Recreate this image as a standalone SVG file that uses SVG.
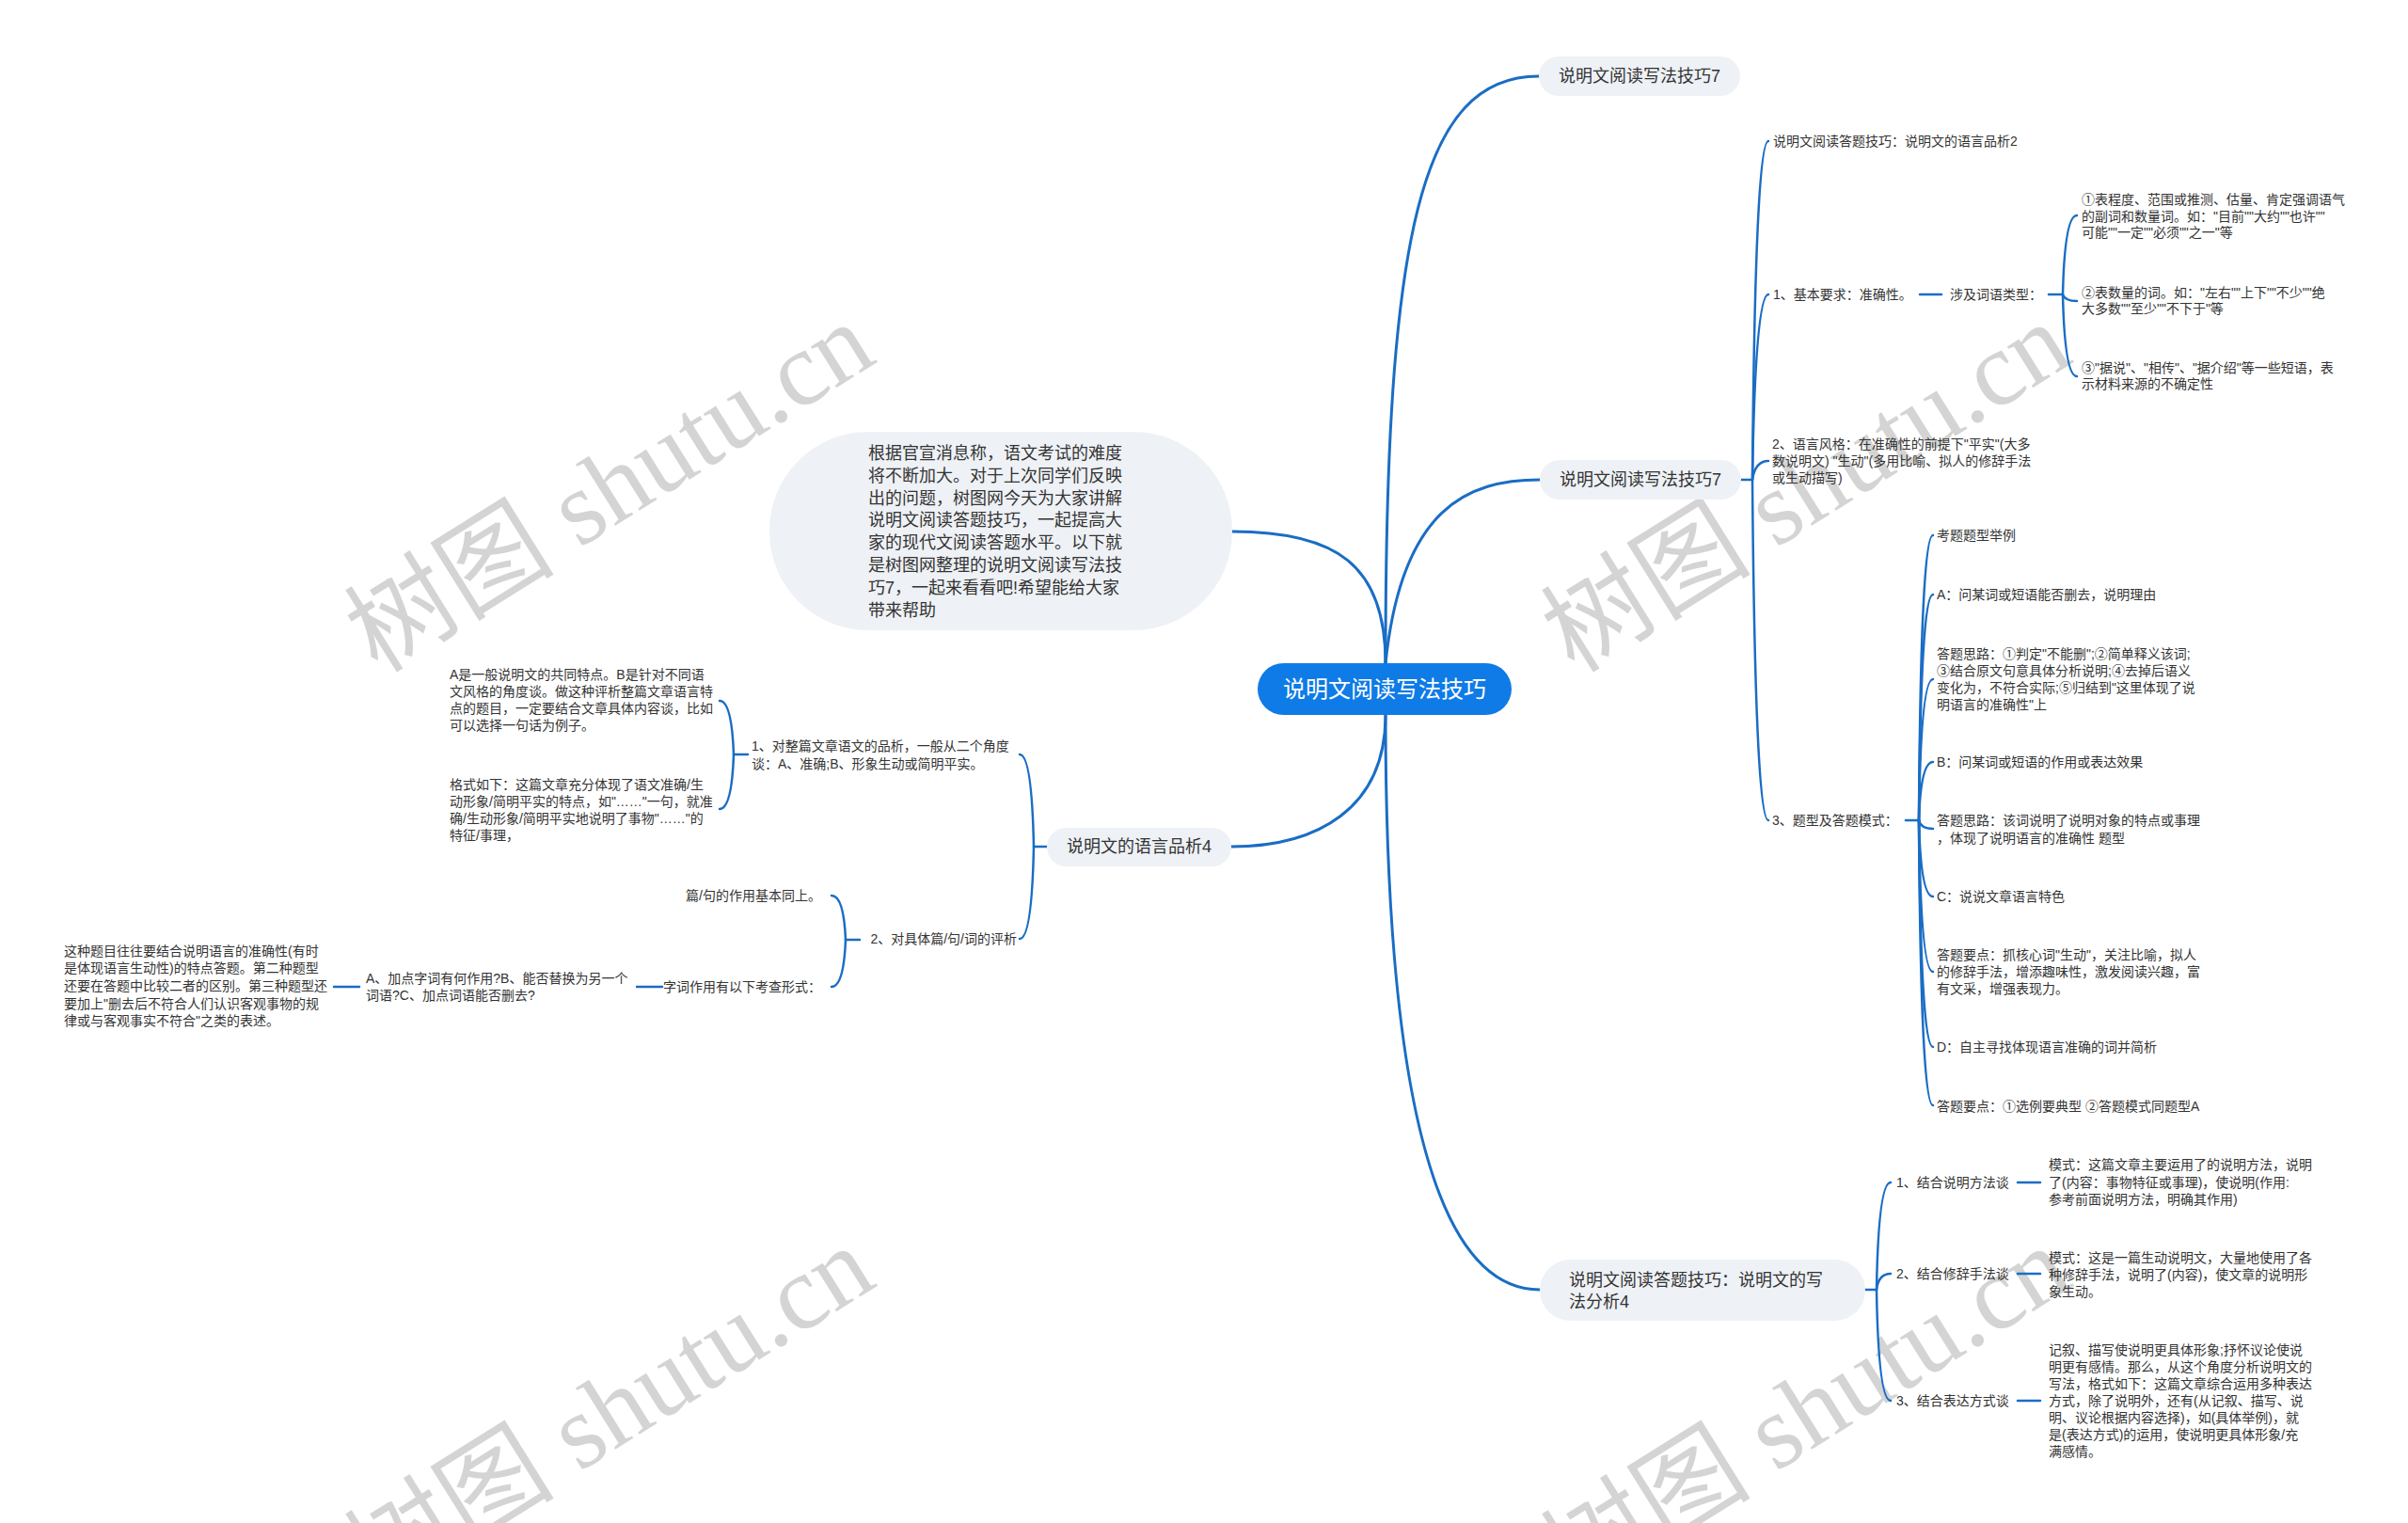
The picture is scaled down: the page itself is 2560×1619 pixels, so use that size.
<svg xmlns="http://www.w3.org/2000/svg" width="2560" height="1619" viewBox="0 0 2560 1619">
<style>
.bg{fill:#ffffff}
.wm{font-family:"Liberation Serif","Noto Sans CJK SC",serif;font-size:112px;fill:#d4d4d4;text-anchor:middle;dominant-baseline:central}
.c{fill:none;stroke:#1a6dc4;stroke-width:2.5;stroke-linecap:round}
.cm{fill:none;stroke:#1a6dc4;stroke-width:3;stroke-linecap:round}
.t{font-family:"Liberation Sans","Noto Sans CJK SC",sans-serif;font-size:14px;fill:#333333;dominant-baseline:central}
.e{text-anchor:end}
.n1 rect{fill:#eef1f5}
.n1 text{font-size:18px;text-anchor:middle}
.root rect{fill:#0f7be6}
.root text{font-family:"Liberation Sans","Noto Sans CJK SC",sans-serif;font-size:24px;fill:#ffffff;text-anchor:middle;dominant-baseline:central}
.intro text{font-size:18px}
</style>
<rect class="bg" x="0" y="0" width="2560" height="1619"/>
<g id="watermark">
<text class="wm" transform="translate(648,518) rotate(-32)">树图 shutu.cn</text>
<text class="wm" transform="translate(1920,518) rotate(-32)">树图 shutu.cn</text>
<text class="wm" transform="translate(648,1500) rotate(-32)">树图 shutu.cn</text>
<text class="wm" transform="translate(1920,1500) rotate(-32)">树图 shutu.cn</text>
</g>
<g id="connectors">
<path class="cm" d="M1473,705 C1473,250 1510,81 1636,81"/>
<path class="cm" d="M1473,705 C1490,540 1560,510 1637,510"/>
<path class="cm" d="M1473,705 C1473,600 1420,565 1310,565"/>
<path class="cm" d="M1473,760 C1473,860 1400,900 1309,900"/>
<path class="cm" d="M1473,760 C1473,1300 1570,1371 1637,1371"/>
<path class="c" d="M1851,510 L1863,510"/>
<path class="c" d="M1863,510 Q1866,150 1880,150"/>
<path class="c" d="M1863,510 Q1866,313 1880,313"/>
<path class="c" d="M1863,510 Q1866,490 1880,490"/>
<path class="c" d="M1863,510 Q1866,872 1880,872"/>
<path class="c" d="M2041,313 L2064,313"/>
<path class="c" d="M2178,313 L2193,313"/>
<path class="c" d="M2193,313 Q2195,229 2208,229"/>
<path class="c" d="M2193,313 Q2195,320 2208,320"/>
<path class="c" d="M2193,313 Q2195,400 2208,400"/>
<path class="c" d="M2026,872 L2040,872"/>
<path class="c" d="M2040,872 Q2042,569 2055,569"/>
<path class="c" d="M2040,872 Q2042,632 2055,632"/>
<path class="c" d="M2040,872 Q2042,722 2055,722"/>
<path class="c" d="M2040,872 Q2042,810 2055,810"/>
<path class="c" d="M2040,872 Q2042,881 2055,881"/>
<path class="c" d="M2040,872 Q2042,953 2055,953"/>
<path class="c" d="M2040,872 Q2042,1033 2055,1033"/>
<path class="c" d="M2040,872 Q2042,1113 2055,1113"/>
<path class="c" d="M2040,872 Q2042,1175 2055,1175"/>
<path class="c" d="M1983,1371 L1995,1371"/>
<path class="c" d="M1995,1371 Q1997,1257 2010,1257"/>
<path class="c" d="M1995,1371 Q1997,1354 2010,1354"/>
<path class="c" d="M1995,1371 Q1997,1489 2010,1489"/>
<path class="c" d="M2145,1257 L2169,1257"/>
<path class="c" d="M2145,1354 L2169,1354"/>
<path class="c" d="M2145,1489 L2169,1489"/>
<path class="c" d="M1113,900 L1099,900"/>
<path class="c" d="M1099,900 Q1097,802 1084,802"/>
<path class="c" d="M1099,900 Q1097,998 1084,998"/>
<path class="c" d="M795,802 L780,802"/>
<path class="c" d="M780,802 Q778,745 765,745"/>
<path class="c" d="M780,802 Q778,860 765,860"/>
<path class="c" d="M914,999 L899,999"/>
<path class="c" d="M899,999 Q897,952 884,952"/>
<path class="c" d="M899,999 Q897,1049 884,1049"/>
<path class="c" d="M677,1049 L704,1049"/>
<path class="c" d="M355,1049 L382,1049"/>
</g>
<g id="root" class="root">
<rect x="1337" y="705" width="270" height="55" rx="27.5"/>
<text x="1472" y="732">说明文阅读写法技巧</text>
</g>
<g id="intro" class="n1 intro">
<rect x="818" y="459" width="492" height="211" rx="105"/>
<text class="t" x="923" y="482" style="text-anchor:start">根据官宣消息称，语文考试的难度</text>
<text class="t" x="923" y="506" style="text-anchor:start">将不断加大。对于上次同学们反映</text>
<text class="t" x="923" y="529.5" style="text-anchor:start">出的问题，树图网今天为大家讲解</text>
<text class="t" x="923" y="553" style="text-anchor:start">说明文阅读答题技巧，一起提高大</text>
<text class="t" x="923" y="577" style="text-anchor:start">家的现代文阅读答题水平。以下就</text>
<text class="t" x="923" y="601" style="text-anchor:start">是树图网整理的说明文阅读写法技</text>
<text class="t" x="923" y="625" style="text-anchor:start">巧7，一起来看看吧!希望能给大家</text>
<text class="t" x="923" y="649" style="text-anchor:start">带来帮助</text>
</g>
<g id="n-tips7-top" class="n1">
<rect x="1636" y="60" width="214" height="42" rx="21"/>
<text class="t" x="1743" y="81">说明文阅读写法技巧7</text>
</g>
<g id="n-tips7" class="n1">
<rect x="1637" y="489" width="214" height="42" rx="21"/>
<text class="t" x="1744" y="510">说明文阅读写法技巧7</text>
</g>
<g id="n-lang4" class="n1">
<rect x="1113" y="880" width="196" height="41" rx="20.5"/>
<text class="t" x="1211" y="900">说明文的语言品析4</text>
</g>
<g id="n-write4" class="n1">
<rect x="1637" y="1339" width="346" height="65" rx="32.5"/>
<text class="t" x="1668" y="1361" style="text-anchor:start">说明文阅读答题技巧：说明文的写</text>
<text class="t" x="1668" y="1384" style="text-anchor:start">法分析4</text>
</g>
<g id="r-lang2"><text class="t" x="1885" y="150">说明文阅读答题技巧：说明文的语言品析2</text></g>
<g id="r-basic"><text class="t" x="1885" y="313">1、基本要求：准确性。</text></g>
<g id="r-wordtype"><text class="t" x="2073" y="313">涉及词语类型：</text></g>
<g id="r-w1">
<text class="t" x="2213" y="212">①表程度、范围或推测、估量、肯定强调语气</text>
<text class="t" x="2213" y="229.5">的副词和数量词。如："目前""大约""也许""</text>
<text class="t" x="2213" y="247">可能""一定""必须""之一"等</text>
</g>
<g id="r-w2">
<text class="t" x="2213" y="311">②表数量的词。如："左右""上下""不少""绝</text>
<text class="t" x="2213" y="328">大多数""至少""不下于"等</text>
</g>
<g id="r-w3">
<text class="t" x="2213" y="391">③"据说"、"相传"、"据介绍"等一些短语，表</text>
<text class="t" x="2213" y="408">示材料来源的不确定性</text>
</g>
<g id="r-style">
<text class="t" x="1884" y="472">2、语言风格：在准确性的前提下"平实"(大多</text>
<text class="t" x="1884" y="490">数说明文) "生动"(多用比喻、拟人的修辞手法</text>
<text class="t" x="1884" y="508">或生动描写)</text>
</g>
<g id="r-types"><text class="t" x="1884" y="872">3、题型及答题模式：</text></g>
<g id="r-t0"><text class="t" x="2059" y="569">考题题型举例</text></g>
<g id="r-t1"><text class="t" x="2059" y="632">A：问某词或短语能否删去，说明理由</text></g>
<g id="r-t2">
<text class="t" x="2059" y="695">答题思路：①判定"不能删";②简单释义该词;</text>
<text class="t" x="2059" y="713">③结合原文句意具体分析说明;④去掉后语义</text>
<text class="t" x="2059" y="731">变化为，不符合实际;⑤归结到"这里体现了说</text>
<text class="t" x="2059" y="749">明语言的准确性"上</text>
</g>
<g id="r-t3"><text class="t" x="2059" y="810">B：问某词或短语的作用或表达效果</text></g>
<g id="r-t4">
<text class="t" x="2059" y="872">答题思路：该词说明了说明对象的特点或事理</text>
<text class="t" x="2059" y="891">，体现了说明语言的准确性 题型</text>
</g>
<g id="r-t5"><text class="t" x="2059" y="953">C：说说文章语言特色</text></g>
<g id="r-t6">
<text class="t" x="2059" y="1015">答题要点：抓核心词"生动"，关注比喻，拟人</text>
<text class="t" x="2059" y="1033">的修辞手法，增添趣味性，激发阅读兴趣，富</text>
<text class="t" x="2059" y="1051">有文采，增强表现力。</text>
</g>
<g id="r-t7"><text class="t" x="2059" y="1113">D：自主寻找体现语言准确的词并简析</text></g>
<g id="r-t8"><text class="t" x="2059" y="1176">答题要点：①选例要典型 ②答题模式同题型A</text></g>
<g id="b-m1"><text class="t" x="2016" y="1257">1、结合说明方法谈</text></g>
<g id="b-m1d">
<text class="t" x="2178" y="1238">模式：这篇文章主要运用了的说明方法，说明</text>
<text class="t" x="2178" y="1257">了(内容：事物特征或事理)，使说明(作用:</text>
<text class="t" x="2178" y="1275">参考前面说明方法，明确其作用)</text>
</g>
<g id="b-m2"><text class="t" x="2016" y="1354">2、结合修辞手法谈</text></g>
<g id="b-m2d">
<text class="t" x="2178" y="1337">模式：这是一篇生动说明文，大量地使用了各</text>
<text class="t" x="2178" y="1355">种修辞手法，说明了(内容)，使文章的说明形</text>
<text class="t" x="2178" y="1373">象生动。</text>
</g>
<g id="b-m3"><text class="t" x="2016" y="1489">3、结合表达方式谈</text></g>
<g id="b-m3d">
<text class="t" x="2178" y="1435">记叙、描写使说明更具体形象;抒怀议论使说</text>
<text class="t" x="2178" y="1453">明更有感情。那么，从这个角度分析说明文的</text>
<text class="t" x="2178" y="1471">写法，格式如下：这篇文章综合运用多种表达</text>
<text class="t" x="2178" y="1489">方式，除了说明外，还有(从记叙、描写、说</text>
<text class="t" x="2178" y="1507">明、议论根据内容选择)，如(具体举例)，就</text>
<text class="t" x="2178" y="1525">是(表达方式)的运用，使说明更具体形象/充</text>
<text class="t" x="2178" y="1543">满感情。</text>
</g>
<g id="l-whole">
<text class="t" x="799" y="793">1、对整篇文章语文的品析，一般从二个角度</text>
<text class="t" x="799" y="812">谈：A、准确;B、形象生动或简明平实。</text>
</g>
<g id="l-whole-a">
<text class="t" x="478" y="717">A是一般说明文的共同特点。B是针对不同语</text>
<text class="t" x="478" y="735">文风格的角度谈。做这种评析整篇文章语言特</text>
<text class="t" x="478" y="753">点的题目，一定要结合文章具体内容谈，比如</text>
<text class="t" x="478" y="771">可以选择一句话为例子。</text>
</g>
<g id="l-whole-b">
<text class="t" x="478" y="834">格式如下：这篇文章充分体现了语文准确/生</text>
<text class="t" x="478" y="852">动形象/简明平实的特点，如"……"一句，就准</text>
<text class="t" x="478" y="870">确/生动形象/简明平实地说明了事物"……"的</text>
<text class="t" x="478" y="888">特征/事理，</text>
</g>
<g id="l-specific"><text class="t e" x="1081" y="998">2、对具体篇/句/词的评析</text></g>
<g id="l-sent"><text class="t e" x="873" y="952">篇/句的作用基本同上。</text></g>
<g id="l-word"><text class="t e" x="873" y="1049">字词作用有以下考查形式：</text></g>
<g id="l-word-a">
<text class="t" x="389" y="1040">A、加点字词有何作用?B、能否替换为另一个</text>
<text class="t" x="389" y="1058">词语?C、加点词语能否删去?</text>
</g>
<g id="l-word-b">
<text class="t" x="68" y="1011">这种题目往往要结合说明语言的准确性(有时</text>
<text class="t" x="68" y="1029">是体现语言生动性)的特点答题。第二种题型</text>
<text class="t" x="68" y="1048">还要在答题中比较二者的区别。第三种题型还</text>
<text class="t" x="68" y="1067">要加上"删去后不符合人们认识客观事物的规</text>
<text class="t" x="68" y="1085">律或与客观事实不符合"之类的表述。</text>
</g>
</svg>
